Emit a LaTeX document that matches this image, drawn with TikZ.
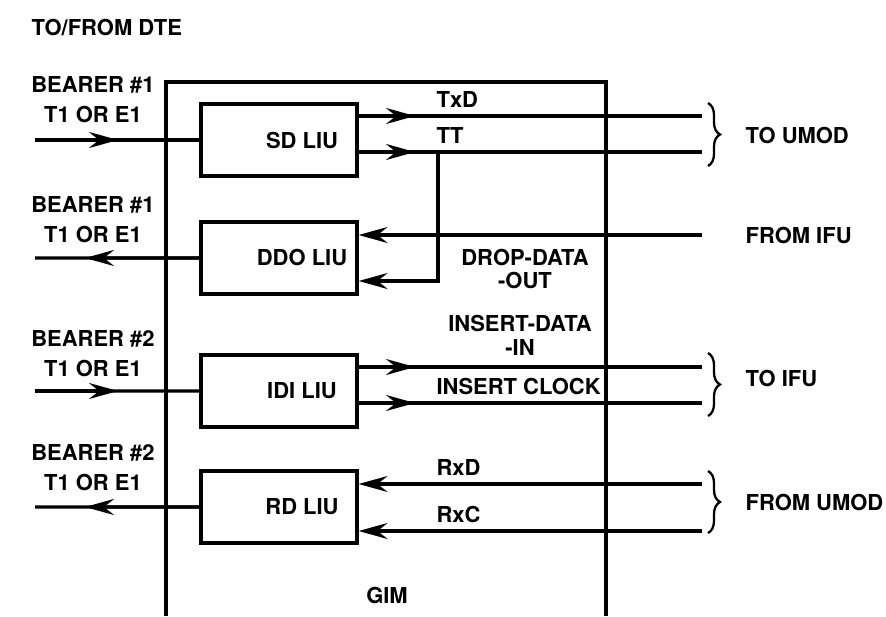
\documentclass[tikz,border=0pt]{standalone}
\usepackage{fontspec}
\setmainfont{TeX Gyre Heros}
\usetikzlibrary{arrows.meta,decorations.pathreplacing}

\begin{document}
\begin{tikzpicture}[x=0.02cm, y=-0.02cm, node distance=2.36cm, line width=1.8pt,
    >={Stealth[length=5.8mm, width=3.2mm, inset=2mm]},
    font=\fontsize{12.5pt}{13.6pt}\selectfont\bfseries]
    % Styles
    \tikzstyle{liu} = [draw, rectangle, minimum width=3.12cm, minimum height=1.44cm, inner sep=0pt]
    \tikzstyle{lbl} = [inner sep=0pt, anchor=west]
    \tikzstyle{twoline} = [inner sep=0pt, align=center]
    \tikzstyle{bearer} = [twoline, font=\fontsize{12.5pt}{17pt}\selectfont\bfseries]
    \tikzstyle{brace} = [decorate, decoration={brace, amplitude=0.24cm}, line width=1.3pt]

    \useasboundingbox (0,0) rectangle (886,616);

    % GIM frame (open at the bottom)
    \draw (166,616) |- (606,82) -- (606,616);

    % Nodes
    \node [liu, label={[xshift=0.46cm]center:SD LIU}] (sd) at (279,140) {};
    \node [liu, below of=sd, label={[xshift=0.46cm]center:DDO LIU}] (ddo) {};
    \node [liu, below of=ddo, node distance=2.66cm, label={[xshift=0.46cm]center:IDI LIU}] (idi) {};
    \node [liu, below of=idi, node distance=2.32cm, label={[xshift=0.46cm]center:RD LIU}] (rd) {};

    % Labels
    \node [lbl] (dte) at (30,28) {TO/FROM DTE};
    \node [bearer] (bearA) at (93,100) {BEARER \#1\\T1 OR E1};
    \node [bearer] (bearB) at (93,220) {BEARER \#1\\T1 OR E1};
    \node [bearer] (bearC) at (93,354) {BEARER \#2\\T1 OR E1};
    \node [bearer] (bearD) at (93,468) {BEARER \#2\\T1 OR E1};
    \node [lbl] (txdl) at (435,99) {TxD};
    \node [lbl] (ttl) at (435,135) {TT};
    \node [twoline] (dropl) at (525,269) {DROP-DATA\\-OUT};
    \node [twoline] (insl) at (520,335) {INSERT-DATA\\-IN};
    \node [lbl] (clkl) at (435,386) {INSERT CLOCK};
    \node [lbl] (rxdl) at (435,467) {RxD};
    \node [lbl] (rxcl) at (435,514) {RxC};
    \node (gim) at (387,595) {GIM};
    \node [lbl] (toumod) at (744,135) {TO UMOD};
    \node [lbl] (fromifu) at (744,235) {FROM IFU};
    \node [lbl] (toifu) at (744,378) {TO IFU};
    \node [lbl] (fromumod) at (744,502) {FROM UMOD};

    % Line ends
    \coordinate (inA) at (35,140);   \coordinate (tipA) at (118,140);
    \coordinate (outB) at (35,258);  \coordinate (tipB) at (85,258);
    \coordinate (inC) at (35,391);   \coordinate (tipC) at (118,391);
    \coordinate (outD) at (35,507);  \coordinate (tipD) at (85,507);
    \coordinate (txd) at (702,116);  \coordinate (txdtip) at (415,116);
    \coordinate (tt) at (702,152);   \coordinate (tttip) at (415,152);
    \coordinate (ttj) at (438,152);  \coordinate (ttk) at (438,281);
    \coordinate (ifu) at (702,235);
    \coordinate (idat) at (702,367); \coordinate (idattip) at (415,367);
    \coordinate (iclk) at (702,403); \coordinate (iclktip) at (415,403);
    \coordinate (rxd) at (702,484);
    \coordinate (rxc) at (702,531);

    % Connections (full line first, arrow head on top)
    \draw (inA) -- (sd.west);
    \draw [->] (inA) -- (tipA);
    \draw (ddo.west) -- (outB);
    \draw [->] (ddo.west) -- (tipB);
    \draw (inC) -- (idi.west);
    \draw [->] (inC) -- (tipC);
    \draw (rd.west) -- (outD);
    \draw [->] (rd.west) -- (tipD);

    \draw (sd.east |- txd) -- (txd);
    \draw [->] (sd.east |- txd) -- (txdtip);
    \draw (sd.east |- tt) -- (tt);
    \draw [->] (sd.east |- tt) -- (tttip);
    \draw [->] (ttj) -- (ttk) -- (ddo.east |- ttk);
    \draw [->] (ifu) -- (ddo.east |- ifu);

    \draw (idi.east |- idat) -- (idat);
    \draw [->] (idi.east |- idat) -- (idattip);
    \draw (idi.east |- iclk) -- (iclk);
    \draw [->] (idi.east |- iclk) -- (iclktip);
    \draw [->] (rxd) -- (rd.east |- rxd);
    \draw [->] (rxc) -- (rd.east |- rxc);

    % Braces
    \draw [brace] (708,103) -- (708,166);
    \draw [brace] (708,353) -- (708,416);
    \draw [brace] (708,471) -- (708,533);
\end{tikzpicture}
\end{document}
